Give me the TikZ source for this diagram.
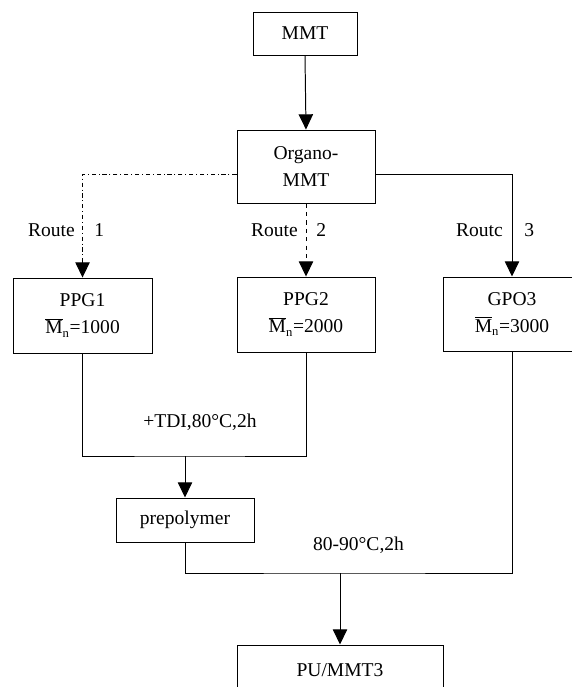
\documentclass[tikz,border=0pt]{standalone}
\usepackage{fontspec}
\setmainfont{Liberation Serif}
\usetikzlibrary{arrows.meta}

\begin{document}
\begin{tikzpicture}[
  every node/.style={font=\fontsize{13.9}{19.2}\selectfont},
  stagebox/.style={draw,line width=0.7pt,align=center,inner sep=0pt},
  flow/.style={line width=0.7pt},
  tip/.style={-{Triangle[width=0.36cm,length=0.38cm]}},
  note/.style={inner sep=0pt}
]
\useasboundingbox (0.000,0.000) rectangle (14.300,-17.175);
% boxes
\node[stagebox,minimum width=2.600cm,minimum height=1.075cm] (mmt) at (7.625,-0.838) {MMT};
\node[stagebox,minimum width=3.450cm,minimum height=1.825cm] (organo) at (7.650,-4.163) {Organo-\\MMT};
\node[stagebox,minimum width=3.475cm,minimum height=1.875cm] (ppgone) at (2.063,-7.888) {PPG1\\$\overline{\mbox{M}}_{\mbox{\fontsize{9}{9}\selectfont n}}$=1000};
\node[stagebox,minimum width=3.450cm,minimum height=1.875cm] (ppgtwo) at (7.650,-7.863) {PPG2\\$\overline{\mbox{M}}_{\mbox{\fontsize{9}{9}\selectfont n}}$=2000};
\node[stagebox,minimum width=3.450cm,minimum height=1.850cm] (gpo) at (12.800,-7.850) {GPO3\\$\overline{\mbox{M}}_{\mbox{\fontsize{9}{9}\selectfont n}}$=3000};
\node[stagebox,minimum width=3.450cm,minimum height=1.100cm] (prepol) at (4.625,-13.000) {prepolymer};
\node[stagebox,minimum width=5.150cm,minimum height=1.250cm] (pu) at (8.500,-16.750) {PU/MMT3};
% junctions
\coordinate (joinppg) at (4.625,-11.400);
\coordinate (joinpu) at (8.500,-14.325);
% routes
\draw[flow,tip] (mmt.south) -- (organo.north);
\draw[flow,tip,dash dot] ([yshift=-0.19cm]organo.west) -| (ppgone.north);
\draw[flow,tip,dashed] (organo.south) -- (ppgtwo.north);
\draw[flow,tip] ([yshift=-0.19cm]organo.east) -| (gpo.north);
\draw[flow] (ppgone.south) |- (joinppg) -| (ppgtwo.south);
\draw[flow,tip] (joinppg) -- (prepol.north);
\draw[flow] (prepol.south) |- (joinpu) -| (gpo.south);
\draw[flow,tip] (joinpu) -- (pu.north);
% labels
\node[note,anchor=east] (routeone) at (1.875,-5.750) {Route};
\node[note,anchor=west] (numone) at (2.350,-5.750) {1};
\node[note,anchor=east] (routetwo) at (7.450,-5.750) {Route};
\node[note,anchor=west] (numtwo) at (7.900,-5.750) {2};
\node[note,anchor=east] (routethree) at (12.575,-5.750) {Routc};
\node[note,anchor=west] (numthree) at (13.100,-5.750) {3};
\node[note] (tdi) at (5.000,-10.550) {+TDI,80°C,2h};
\node[note] (cure) at (8.963,-13.625) {80-90°C,2h};
\end{tikzpicture}
\end{document}
